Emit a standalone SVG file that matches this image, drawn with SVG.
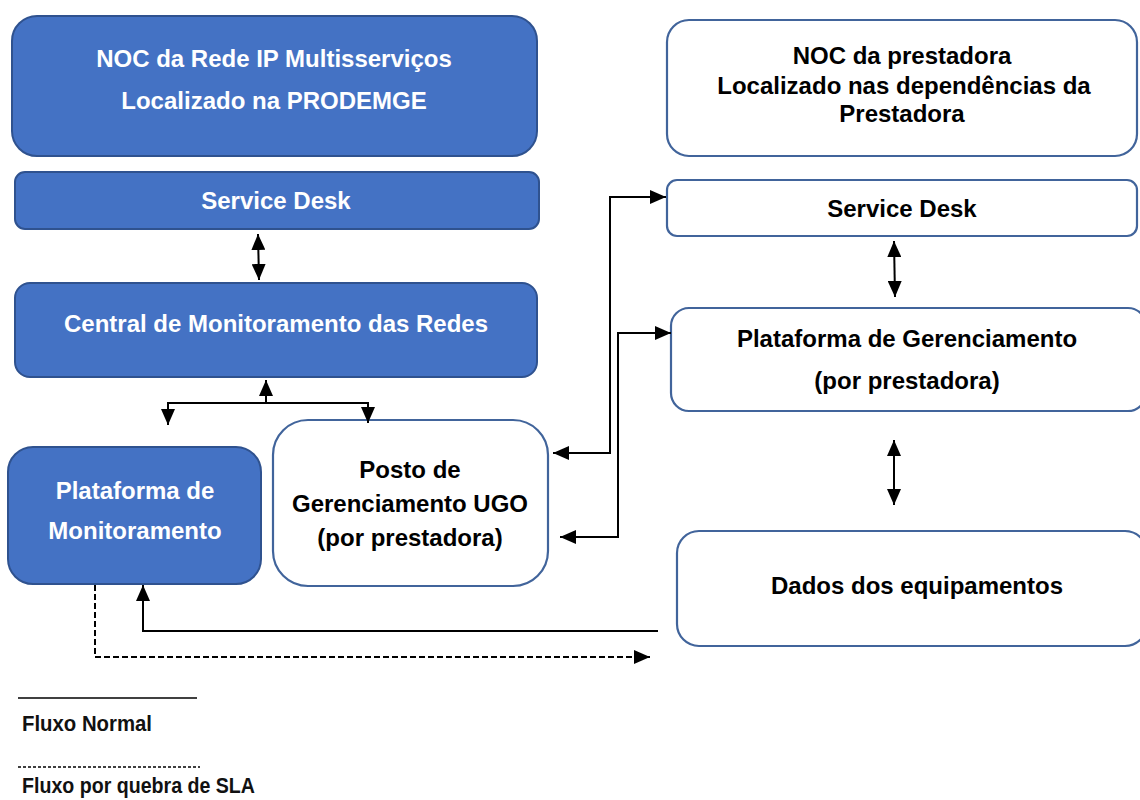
<svg xmlns="http://www.w3.org/2000/svg" width="1140" height="800" viewBox="0 0 1140 800">
<defs>
<style>
.blue{fill:#4472C4;stroke:#2F528F;stroke-width:2}
.white{fill:#ffffff;stroke:#41649B;stroke-width:2.2}
.tw{font-family:"Liberation Sans",Arial,sans-serif;font-weight:bold;fill:#ffffff;text-anchor:middle;font-size:24px}
.tb{font-family:"Liberation Sans",Arial,sans-serif;font-weight:bold;fill:#000000;text-anchor:middle;font-size:24px}
.conn{fill:none;stroke:#000000;stroke-width:2}
.leg{font-family:"Liberation Sans Narrow","Liberation Sans",Arial,sans-serif;font-weight:bold;fill:#111111;font-size:22px}
</style>
<marker id="ah" viewBox="0 0 16 14" refX="16" refY="7" markerWidth="16" markerHeight="14" markerUnits="userSpaceOnUse" orient="auto-start-reverse">
<path d="M0,0 L16,7 L0,14 z" fill="#000000"/>
</marker>
</defs>
<rect width="1140" height="800" fill="#ffffff"/>

<g id="noc-rede">
<rect class="blue" x="12" y="16" width="525" height="140" rx="25"/>
<text class="tw" x="274" y="67">NOC da Rede IP Multisserviços</text>
<text class="tw" x="274" y="109">Localizado na PRODEMGE</text>
</g>
<g id="service-desk-left">
<rect class="blue" x="15" y="172" width="524" height="57" rx="10"/>
<text class="tw" x="276" y="209">Service Desk</text>
</g>
<g id="central">
<rect class="blue" x="15" y="283" width="522" height="94" rx="15"/>
<text class="tw" x="276" y="332">Central de Monitoramento das Redes</text>
</g>
<g id="plataforma-monitoramento">
<rect class="blue" x="8" y="447" width="253" height="137" rx="25"/>
<text class="tw" x="135" y="499">Plataforma de</text>
<text class="tw" x="135" y="539">Monitoramento</text>
</g>
<g id="posto-ugo">
<rect class="white" x="273" y="420" width="275" height="166" rx="35"/>
<text class="tb" x="410" y="478" font-size="21.5">Posto de</text>
<text class="tb" x="410" y="512" font-size="21.5">Gerenciamento UGO</text>
<text class="tb" x="410" y="546" font-size="21.5">(por prestadora)</text>
</g>
<g id="noc-prestadora">
<rect class="white" x="667" y="20" width="470" height="136" rx="22"/>
<text class="tb" x="902" y="64" font-size="23.5">NOC da prestadora</text>
<text class="tb" x="904" y="94" font-size="23.5">Localizado nas dependências da</text>
<text class="tb" x="902" y="122" font-size="23.5">Prestadora</text>
</g>
<g id="service-desk-right">
<rect class="white" x="667" y="180" width="470" height="56" rx="10"/>
<text class="tb" x="902" y="217">Service Desk</text>
</g>
<g id="plataforma-gerenciamento">
<rect class="white" x="671" y="308" width="475" height="103" rx="18"/>
<text class="tb" x="907" y="347">Plataforma de Gerenciamento</text>
<text class="tb" x="907" y="389">(por prestadora)</text>
</g>
<g id="dados-equipamentos">
<rect class="white" x="677" y="531" width="470" height="115" rx="22"/>
<text class="tb" x="917" y="594">Dados dos equipamentos</text>
</g>

<g id="connectors">
<path class="conn" d="M258,234 L259,280" marker-start="url(#ah)" marker-end="url(#ah)"/>
<path class="conn" d="M266,403 V380" marker-end="url(#ah)"/>
<path class="conn" d="M168,425 V403 H368 V423" marker-start="url(#ah)" marker-end="url(#ah)"/>
<path class="conn" d="M553,453 H610 V197 H666" marker-start="url(#ah)" marker-end="url(#ah)"/>
<path class="conn" d="M560,537 H618 V333 H671" marker-start="url(#ah)" marker-end="url(#ah)"/>
<path class="conn" d="M894,241 L895,297" marker-start="url(#ah)" marker-end="url(#ah)"/>
<path class="conn" d="M894,440 V505" marker-start="url(#ah)" marker-end="url(#ah)"/>
<path class="conn" d="M658,631 H143 V585" stroke-width="1.8" marker-end="url(#ah)"/>
<path class="conn" d="M95,585 V657 H650" stroke-width="1.8" stroke-dasharray="6,3" marker-end="url(#ah)"/>
</g>

<g id="legend">
<line x1="18" y1="698" x2="197" y2="698" stroke="#000" stroke-width="1.6"/>
<text class="leg" x="22" y="731" textLength="130" lengthAdjust="spacingAndGlyphs">Fluxo Normal</text>
<line x1="18" y1="767" x2="200" y2="767" stroke="#000" stroke-width="1.3" stroke-dasharray="3,2"/>
<text class="leg" x="22" y="793" textLength="233" lengthAdjust="spacingAndGlyphs">Fluxo por quebra de SLA</text>
</g>
</svg>
